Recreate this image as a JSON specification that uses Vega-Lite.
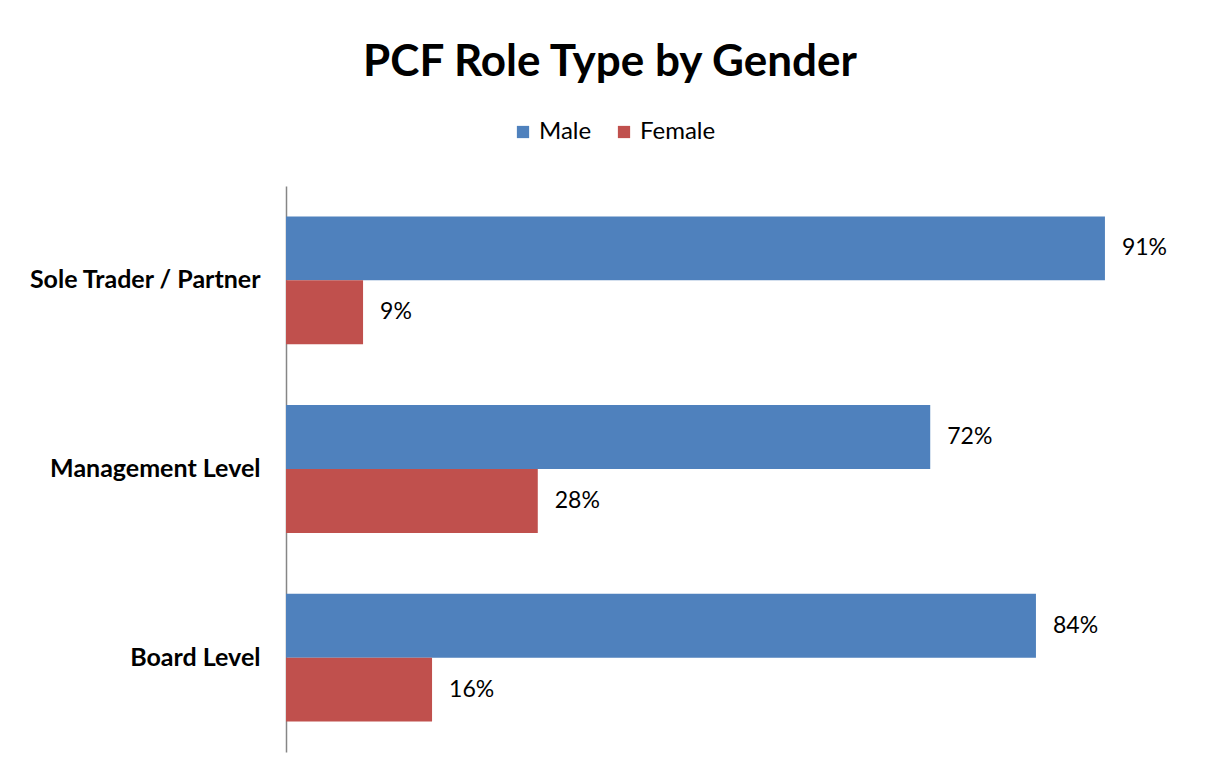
{
  "$schema": "https://vega.github.io/schema/vega-lite/v6.json",
  "autosize": {"type": "none"},
  "width": 896,
  "height": 566,
  "padding": {"left": 286, "top": 186, "right": 26, "bottom": 24},
  "background": "white",
  "title": {
    "text": "PCF Role Type by Gender",
    "anchor": "middle",
    "frame": "group",
    "dx": -124,
    "offset": 35,
    "font": "Lato",
    "fontSize": 44,
    "fontWeight": "bold",
    "color": "#000000"
  },
  "data": {
    "values": [
      {"role": "Sole Trader / Partner", "gender": "Male", "share": 0.914},
      {"role": "Sole Trader / Partner", "gender": "Female", "share": 0.086},
      {"role": "Management Level", "gender": "Male", "share": 0.719},
      {"role": "Management Level", "gender": "Female", "share": 0.281},
      {"role": "Board Level", "gender": "Male", "share": 0.837},
      {"role": "Board Level", "gender": "Female", "share": 0.163}
    ]
  },
  "encoding": {
    "y": {
      "field": "role",
      "type": "nominal",
      "sort": ["Sole Trader / Partner", "Management Level", "Board Level"],
      "scale": {"paddingInner": 0.323, "paddingOuter": 0.161},
      "axis": {
        "title": null,
        "ticks": false,
        "grid": false,
        "domainColor": "#868686",
        "domainWidth": 1.5,
        "labelPadding": 26,
        "labelLimit": 400,
        "labelFont": "Lato",
        "labelFontSize": 25,
        "labelFontWeight": "bold",
        "labelColor": "#000000"
      }
    },
    "yOffset": {
      "field": "gender",
      "type": "nominal",
      "sort": ["Male", "Female"],
      "scale": {"paddingInner": 0, "paddingOuter": 0}
    },
    "x": {
      "field": "share",
      "type": "quantitative",
      "scale": {"domain": [0, 1]},
      "axis": null
    }
  },
  "layer": [
    {
      "mark": {"type": "bar"},
      "encoding": {
        "color": {
          "field": "gender",
          "type": "nominal",
          "sort": ["Male", "Female"],
          "scale": {"domain": ["Male", "Female"], "range": ["#4F81BD", "#C0504D"]},
          "legend": {
            "title": null,
            "orient": "none",
            "direction": "horizontal",
            "legendX": 225,
            "legendY": -66,
            "symbolType": "square",
            "symbolSize": 150,
            "symbolStrokeWidth": 0,
            "symbolOpacity": 1,
            "labelFont": "Lato",
            "labelFontSize": 24,
            "labelColor": "#000000",
            "labelOffset": 4,
            "columnPadding": 20,
            "padding": 0
          }
        }
      }
    },
    {
      "mark": {"type": "text", "align": "left", "baseline": "middle", "dx": 17, "font": "Lato", "fontSize": 23, "color": "#000000"},
      "encoding": {
        "text": {"field": "share", "type": "quantitative", "format": ".0%"}
      }
    }
  ],
  "config": {
    "view": {"stroke": null}
  }
}
